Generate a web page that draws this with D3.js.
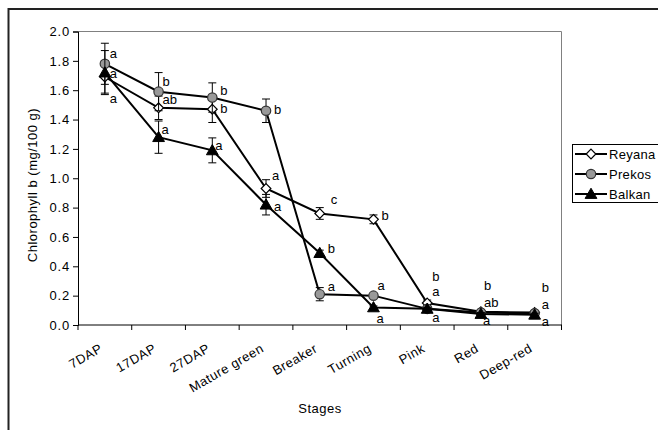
<!DOCTYPE html>
<html>
<head>
<meta charset="utf-8">
<script src="https://cdn.jsdelivr.net/npm/d3@7"></script>
<style>
  html, body { margin: 0; padding: 0; background: #fff; }
  svg { display: block; font-family: "Liberation Sans", Arial, sans-serif; }
</style>
</head>
<body>
<svg id="chart" width="658" height="430"></svg>
<script>
// ---- data ----
const stages = ["7DAP", "17DAP", "27DAP", "Mature green", "Breaker", "Turning", "Pink", "Red", "Deep-red"];
const seriesNames = ["Reyana", "Prekos", "Balkan"];
const reyana = [1.69, 1.48, 1.47, 0.93, 0.76, 0.72, 0.15, 0.09, 0.085];
const prekos = [1.78, 1.59, 1.55, 1.46, 0.21, 0.20, 0.11, 0.085, 0.08];
const balkan = [1.72, 1.28, 1.19, 0.82, 0.49, 0.12, 0.11, 0.075, 0.07];
const reyanaErr = [0.11, 0.08, 0.09, 0.06, 0.04, 0.03, 0.02, 0.01, 0.01];
const prekosErr = [0.14, 0.13, 0.10, 0.08, 0.045, 0.01, 0.01, 0.01, 0.01];
const balkanErr = [0.15, 0.11, 0.085, 0.07, 0.02, 0.01, 0.01, 0.01, 0.01];
const reyanaLetters = ["a", "ab", "b", "a", "c", "b", "b", "b", "b"];
const prekosLetters = ["a", "b", "b", "b", "a", "a", "a", "ab", "a"];
const balkanLetters = ["a", "a", "a", "a", "b", "a", "a", "a", "a"];
const yTicks = [0, 0.2, 0.4, 0.6, 0.8, 1.0, 1.2, 1.4, 1.6, 1.8, 2.0];

// ---- layout (label offsets from point, px) ----
const labelDx = [
  [5, 4, 8, 6, 11, 8, 5, 3, 7],
  [5, 4, 8, 8, 8, 4, 5, 3, 7],
  [5, 3, 3, 8, 8, 3, 5, 2, 7]
];
const labelDy = [
  [21, -8, -1, -13, -14, -4, -27, -26, -25],
  [-10, -10, -7, -1, -8, -10, -17, -10, -9],
  [1, -8, -5, 2, -5, 11, 9, 6, 7]
];

const svg = d3.select("#chart");
const plot = { left: 78, top: 31.5, right: 561.5, bottom: 325 };

const x = d3.scaleBand().domain(stages).range([plot.left, plot.right]).padding(0);
const y = d3.scaleLinear().domain([0, 2.0]).range([plot.bottom, plot.top]);
const cx = s => x(s) + x.bandwidth() / 2;

// outer frame
svg.append("rect").attr("x", 8.5).attr("y", 9).attr("width", 700).attr("height", 450)
  .attr("fill", "none").attr("stroke", "#222").attr("stroke-width", 2);

// plot area border (top/right gray)
svg.append("path")
  .attr("d", `M${plot.left},${plot.top}H${plot.right}V${plot.bottom}`)
  .attr("fill", "none").attr("stroke", "#808080").attr("stroke-width", 1);

// y axis
const yAxis = d3.axisLeft(y).tickValues(yTicks).tickFormat(d3.format(".1f")).tickSize(5).tickPadding(3);
const gy = svg.append("g").attr("transform", `translate(${plot.left},0)`).call(yAxis);
gy.selectAll("text").attr("font-size", 13).attr("letter-spacing", 0.8)
  .attr("font-family", "Liberation Sans, Arial, sans-serif").attr("fill", "#000");
gy.selectAll("line, path").attr("stroke", "#000");

// x axis
const gx = svg.append("g").attr("transform", `translate(0,${plot.bottom})`);
gx.append("line").attr("x1", plot.left).attr("x2", plot.right + 0.5).attr("stroke", "#000");
const boundaries = stages.map(s => x(s)).concat([plot.right]);
gx.selectAll("line.tick").data(boundaries).enter().append("line")
  .attr("class", "tick").attr("x1", d => d).attr("x2", d => d).attr("y1", 0).attr("y2", 5).attr("stroke", "#000");
gx.selectAll("text").data(stages).enter().append("text")
  .attr("transform", d => `translate(${cx(d) - 6},${18}) rotate(-30)`)
  .attr("text-anchor", "end").attr("dy", "0.71em")
  .attr("font-size", 13).attr("letter-spacing", 0.5).text(d => d);

// axis titles
svg.append("text").attr("transform", `translate(37,185) rotate(-90)`)
  .attr("text-anchor", "middle").attr("font-size", 13).attr("letter-spacing", 0.5).text("Chlorophyll b (mg/100 g)");
svg.append("text").attr("x", 320).attr("y", 413).attr("text-anchor", "middle")
  .attr("font-size", 13).attr("letter-spacing", 0.5).text("Stages");

// series
const series = [
  { name: seriesNames[0], vals: reyana, err: reyanaErr, letters: reyanaLetters, shape: "diamond" },
  { name: seriesNames[1], vals: prekos, err: prekosErr, letters: prekosLetters, shape: "circle" },
  { name: seriesNames[2], vals: balkan, err: balkanErr, letters: balkanLetters, shape: "triangle" }
];

const line = d3.line().x(d => cx(d.s)).y(d => y(d.v));

function drawMarker(g, shape, px, py) {
  if (shape === "diamond") {
    g.append("path").attr("d", d3.symbol(d3.symbolDiamond2, 60)())
      .attr("transform", `translate(${px},${py})`)
      .attr("fill", "#fff").attr("stroke", "#000").attr("stroke-width", 1.2);
  } else if (shape === "circle") {
    g.append("circle").attr("cx", px).attr("cy", py).attr("r", 4.7)
      .attr("fill", "#999").attr("stroke", "#333").attr("stroke-width", 1.2);
  } else {
    g.append("path").attr("d", d3.symbol(d3.symbolTriangle, 60)())
      .attr("transform", `translate(${px},${py + 1})`)
      .attr("fill", "#000").attr("stroke", "#000").attr("stroke-width", 1);
  }
}

series.forEach((sr, si) => {
  const g = svg.append("g");
  const pts = stages.map((s, i) => ({ s, v: sr.vals[i], e: sr.err[i] }));
  // error bars
  pts.forEach(p => {
    const px = cx(p.s);
    g.append("line").attr("x1", px).attr("x2", px).attr("y1", y(p.v + p.e)).attr("y2", y(p.v - p.e)).attr("stroke", "#000");
    [p.v + p.e, p.v - p.e].forEach(v => {
      g.append("line").attr("x1", px - 4).attr("x2", px + 4).attr("y1", y(v)).attr("y2", y(v)).attr("stroke", "#000");
    });
  });
  g.append("path").datum(pts).attr("d", line).attr("fill", "none").attr("stroke", "#000").attr("stroke-width", 2);
  pts.forEach(p => drawMarker(g, sr.shape, cx(p.s), y(p.v)));
  // letters
  pts.forEach((p, i) => {
    svg.append("text").attr("x", cx(p.s) + labelDx[si][i]).attr("y", y(p.v) + labelDy[si][i])
      .attr("dy", "0.35em").attr("font-size", 13).attr("fill", "#000").text(sr.letters[i]);
  });
});

// legend
const lg = svg.append("g");
lg.append("rect").attr("x", 572.5).attr("y", 144.5).attr("width", 120).attr("height", 58)
  .attr("fill", "#fff").attr("stroke", "#000");
series.forEach((sr, i) => {
  const ly = 154 + i * 20;
  lg.append("line").attr("x1", 575).attr("x2", 607).attr("y1", ly).attr("y2", ly).attr("stroke", "#000").attr("stroke-width", 2);
  drawMarker(lg, sr.shape, 591, ly);
  lg.append("text").attr("x", 609).attr("y", ly).attr("dy", "0.35em")
    .attr("font-size", 13).attr("letter-spacing", 0.3).text(sr.name);
});
</script>
</body>
</html>
